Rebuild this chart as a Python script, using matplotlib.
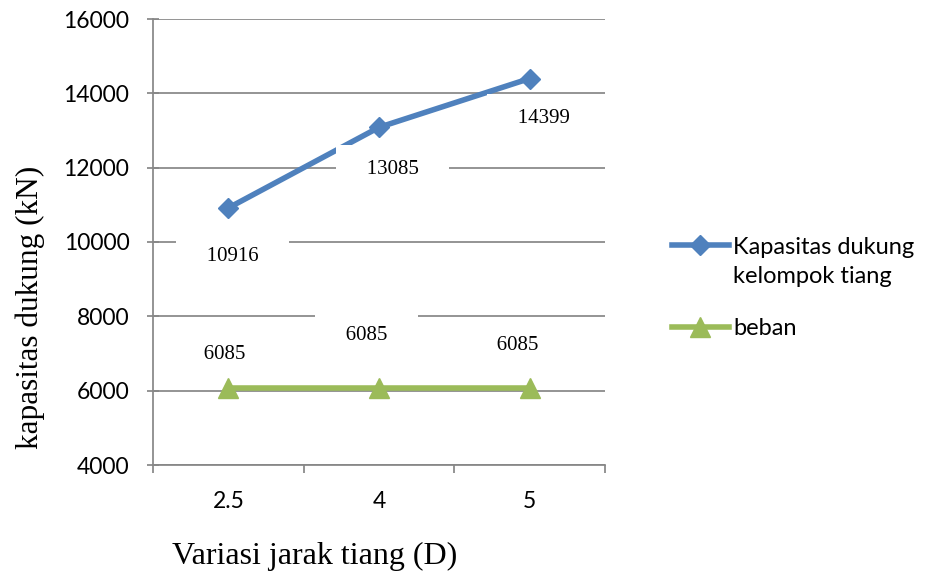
import matplotlib
matplotlib.use("Agg")
import matplotlib.pyplot as plt
from matplotlib.legend_handler import HandlerLine2D
from matplotlib.transforms import Affine2D

# --- data ---
jarak = ["2.5", "4", "5"]
kapasitas = [10916, 13085, 14399]
beban = [6085, 6085, 6085]

# label offsets (points) for each value box
off_kap = [(3, -35), (10, -30), (10, -28.5)]
off_beban = [(-3, 24), (-9, 37.5), (-9, 30.5)]

BLUE = "#4F81BD"
GREEN = "#9BBB59"
GRID = "#878787"
SERIF = "Liberation Serif"
SANS = "Lato"


class RaisedHandler(HandlerLine2D):
    # put the handle next to the first line of a two-line label
    def __init__(self, shift, **kw):
        super().__init__(**kw)
        self.shift = shift

    def create_artists(self, legend, orig_handle, xdescent, ydescent,
                       width, height, fontsize, trans):
        t = Affine2D().translate(0, self.shift) + trans
        return super().create_artists(legend, orig_handle, xdescent, ydescent,
                                      width, height, fontsize, t)


fig = plt.figure(figsize=(9.27, 5.81), dpi=100)
ax = fig.add_axes([153 / 927, 1 - 465 / 581, 452 / 927, 446 / 581])

x = list(range(len(jarak)))
l1, = ax.plot(x, kapasitas, color=BLUE, lw=4, marker="D", ms=10,
              zorder=3, label="Kapasitas dukung\nkelompok tiang")
l2, = ax.plot(x, beban, color=GREEN, lw=4, marker="^", ms=15,
              zorder=3, label="beban")

box = dict(boxstyle="square,pad=0.7", fc="white", ec="none")
for xi, v, off in zip(x, kapasitas, off_kap):
    ax.annotate(f"   {v}   ", (xi, v), xytext=off, textcoords="offset points",
                ha="center", va="center", fontsize=15, family=SERIF,
                bbox=box, zorder=4)
for xi, v, off in zip(x, beban, off_beban):
    ax.annotate(f"   {v}   ", (xi, v), xytext=off, textcoords="offset points",
                ha="center", va="center", fontsize=15, family=SERIF,
                bbox=box, zorder=4)

ax.set_xlim(-0.5, len(jarak) - 0.5)
ax.set_ylim(4000, 16000)
ax.set_yticks(range(4000, 16001, 2000))
ax.set_xticks(x)
ax.set_xticklabels(jarak)
ax.set_xticks([i - 0.5 for i in range(len(jarak) + 1)], minor=True)

ax.grid(axis="y", color=GRID, lw=1.25, zorder=0)
ax.set_axisbelow(True)
for s in ["top", "right"]:
    ax.spines[s].set_visible(False)
for s in ["left", "bottom"]:
    ax.spines[s].set_color(GRID)
    ax.spines[s].set_linewidth(1.25)

ax.tick_params(axis="y", direction="inout", length=8, width=1.25, color=GRID,
               pad=13, labelsize=16.5)
ax.tick_params(axis="x", which="major", length=0, pad=19, labelsize=16.5)
ax.tick_params(axis="x", which="minor", direction="out", length=6, width=1.25,
               color=GRID)
for lab in ax.get_xticklabels() + ax.get_yticklabels():
    lab.set_family(SANS)

fig.text(30 / 927, 1 - 307 / 581, "kapasitas dukung (kN)", rotation=90,
         ha="center", va="center", fontsize=22.5, family=SERIF)
fig.text(315 / 927, 1 - 556 / 581, "Variasi jarak tiang (D)",
         ha="center", va="center", fontsize=23, family=SERIF)

leg = fig.legend(handles=[l1, l2], loc="center left",
                 bbox_to_anchor=(672 / 927, 1 - 288 / 581),
                 frameon=False, borderpad=0, borderaxespad=0,
                 handlelength=2.4, handletextpad=0.2, labelspacing=1.3,
                 prop={"family": SANS, "size": 17},
                 handler_map={l1: RaisedHandler(shift=12.5)})
for t in leg.get_texts():
    t.set_linespacing(1.5)

fig.savefig("out.png", dpi=100)
